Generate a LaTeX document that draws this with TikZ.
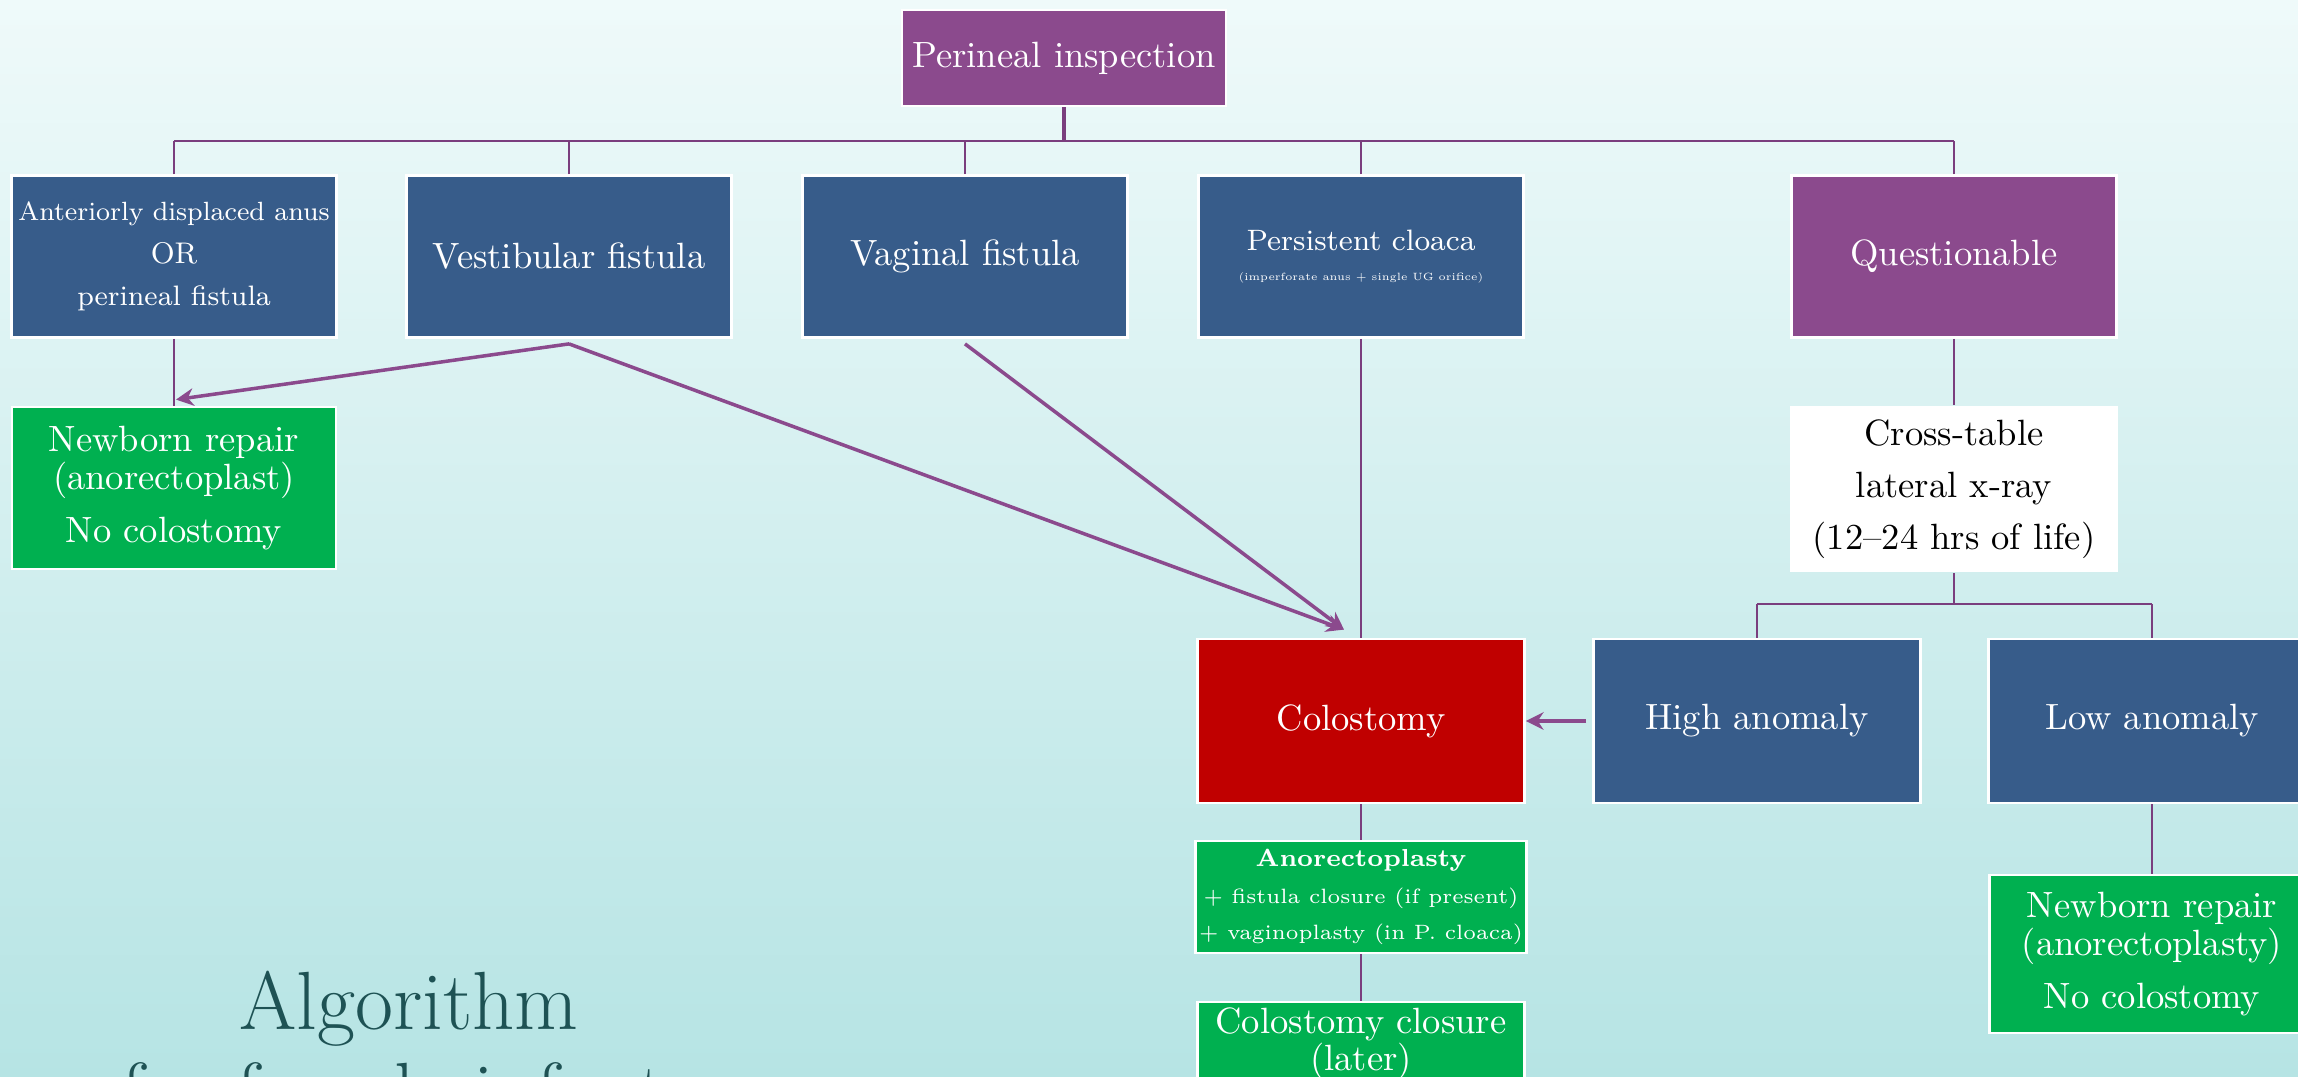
\documentclass[tikz,border=0pt]{standalone}
\usetikzlibrary{arrows.meta}

\definecolor{bgtop}{RGB}{239,250,250}
\definecolor{bgbot}{RGB}{182,228,228}
\definecolor{bluebox}{RGB}{55,92,138}
\definecolor{purplebox}{RGB}{139,74,141}
\definecolor{greenbox}{RGB}{0,176,80}
\definecolor{redbox}{RGB}{192,0,0}
\definecolor{linkpurple}{RGB}{122,62,126}
\definecolor{arrpurple}{RGB}{139,74,141}
\definecolor{titleteal}{RGB}{30,82,84}

\tikzset{
  box/.style={draw=white, line width=0.8pt, fill=bluebox, text=white, align=center,
    minimum width=3.25cm, minimum height=1.62cm, inner sep=1pt,
    font=\fontsize{10.4}{12.5}\selectfont},
  link/.style={draw=linkpurple, line width=0.6pt},
  arr/.style={draw=arrpurple, line width=1pt, -{Stealth[length=5pt,width=5pt]}},
  headline/.style={text=titleteal, align=center, inner sep=0pt,
    font=\fontsize{23.5}{26}\selectfont},
}

\begin{document}
\begin{tikzpicture}
\clip (0,0) rectangle (22.98,10.77);
\shade[top color=bgtop, bottom color=bgbot] (0,0) rectangle (22.98,10.77);

% top
\node[box, fill=purplebox, minimum width=3.24cm, minimum height=0.96cm] (insp) at (10.64,10.19) {Perineal inspection};

% second row
\node[box, font=\fontsize{7.5}{12}\selectfont] (adisp) at (1.74,8.205) {Anteriorly displaced anus\\{\fontsize{8.5}{12}\selectfont OR}\\{\fontsize{8}{12}\selectfont perineal fistula}};
\node[box] (vest) at (5.69,8.205) {Vestibular fistula};
\node[box] (vag) at (9.65,8.205) {Vaginal fistula};
\node[box, font=\fontsize{8.4}{8.5}\selectfont] (cloaca) at (13.61,8.205) {Persistent cloaca\\{\fontsize{3}{4}\selectfont (imperforate anus + single UG orifice)}};
\node[box, fill=purplebox] (quest) at (19.54,8.205) {Questionable};

% left repair, x-ray
\node[box, fill=greenbox, minimum width=3.24cm, font=\fontsize{10.4}{10.8}\selectfont] (newl) at (1.74,5.89) {Newborn repair\\(anorectoplast)\\[4.2pt]No colostomy};
\node[box, draw=none, fill=white, text=black, minimum width=3.28cm, minimum height=1.66cm, font=\fontsize{10.4}{14.8}\selectfont] (xray) at (19.54,5.88) {Cross-table\\lateral x-ray\\(12--24 hrs of life)};

% third row
\node[box, fill=redbox, minimum width=3.27cm, minimum height=1.64cm] (colo) at (13.61,3.56) {Colostomy};
\node[box, minimum width=3.27cm, minimum height=1.64cm] (high) at (17.57,3.56) {High anomaly};
\node[box, minimum width=3.27cm, minimum height=1.64cm] (low) at (21.52,3.56) {Low anomaly};

% after colostomy
\node[box, fill=greenbox, minimum width=3.27cm, minimum height=1.12cm, font=\fontsize{5.9}{10.5}\selectfont] (anor) at (13.61,1.80) {{\fontsize{7}{10.5}\selectfont\textbf{Anorectoplasty}}\\+ fistula closure (if present)\\+ vaginoplasty (in P.\ cloaca)};
\node[box, fill=greenbox, minimum width=3.27cm, minimum height=0.84cm, font=\fontsize{10.4}{10.5}\selectfont] (close) at (13.61,0.33) {Colostomy closure\\(later)};
\node[box, fill=greenbox, minimum width=3.25cm, minimum height=1.58cm, font=\fontsize{10.4}{10.8}\selectfont] (newr) at (21.52,1.23) {Newborn repair\\(anorectoplasty)\\[4.2pt]No colostomy};

% title
\node[headline, anchor=north] (ttl) at (4.09,1.07) {Algorithm\\for female infants};

% bus under the top box
\coordinate (bus) at (10.64,9.36);
\draw[link, line width=1.1pt] (insp.south) -- (bus);
\draw[link, line width=0.8pt] (adisp.north |- bus) -- (quest.north |- bus);
\draw[link] (adisp.north) -- (adisp.north |- bus);
\draw[link] (vest.north) -- (vest.north |- bus);
\draw[link] (vag.north) -- (vag.north |- bus);
\draw[link] (cloaca.north) -- (cloaca.north |- bus);
\draw[link] (quest.north) -- (quest.north |- bus);

% bus under the x-ray
\coordinate (bus2) at (19.54,4.73);
\draw[link] (quest.south) -- (xray.north);
\draw[link] (xray.south) -- (bus2);
\draw[link, line width=0.8pt] (high.north |- bus2) -- (low.north |- bus2);
\draw[link] (high.north) -- (high.north |- bus2);
\draw[link] (low.north) -- (low.north |- bus2);

% straight links
\draw[link] (adisp.south) -- (newl.north);
\draw[link] (cloaca.south) -- (colo.north);
\draw[link] (colo.south) -- (anor.north);
\draw[link] (anor.south) -- (close.north);
\draw[link] (low.south) -- (newr.north);

% arrows
\coordinate (cin) at ([xshift=-0.17cm,yshift=0.08cm]colo.north);
\draw[arr] ([yshift=-0.05cm]vest.south) -- ([xshift=0.02cm,yshift=0.06cm]newl.north);
\draw[arr] ([yshift=-0.05cm]vest.south) -- (cin);
\draw[arr] ([yshift=-0.05cm]vag.south) -- (cin);
\draw[arr] ([xshift=-0.06cm]high.west) -- (colo.east);
\end{tikzpicture}
\end{document}
